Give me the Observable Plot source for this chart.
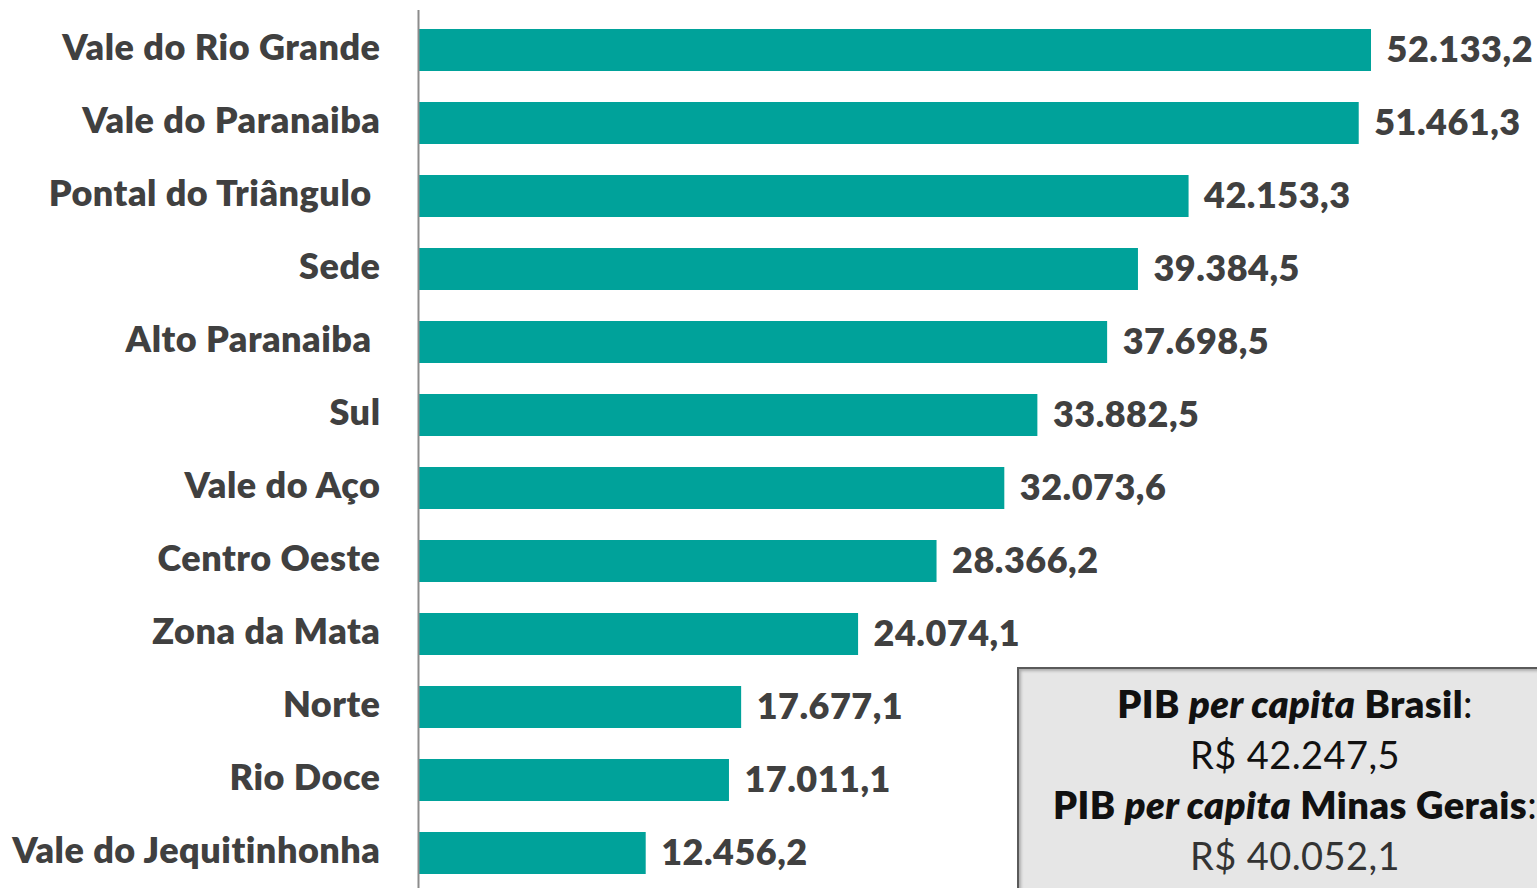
<!DOCTYPE html>
<html>
<head>
<meta charset="utf-8">
<script src="https://cdn.jsdelivr.net/npm/d3@7"></script>
<script src="https://cdn.jsdelivr.net/npm/@observablehq/plot@0.6"></script>
<style>
  html, body { margin: 0; padding: 0; background: #fff; }
  #wrap { position: relative; width: 1537px; height: 888px; overflow: hidden; }
  #chart svg text { letter-spacing: 0.5px; }
  #box {
    position: absolute; left: 1017px; top: 667px; width: 560px; height: 260px;
    background: #e6e6e6; border: 2px solid #5a5a5a; box-sizing: border-box;
    box-shadow: inset 2px 2px 3px rgba(0,0,0,0.25);
    font-family: Lato, "Open Sans", sans-serif; font-size: 38px; color: #111; letter-spacing: 0.4px;
  }
  #box .ln { position: absolute; left: 0; width: 552px; text-align: center; line-height: 1; white-space: nowrap; }
</style>
</head>
<body>
<div id="wrap">
  <div id="chart"></div>
  <div id="box"></div>
</div>
<script>
const regions = ["Vale do Rio Grande", "Vale do Paranaiba", "Pontal do Triângulo\u00A0", "Sede", "Alto Paranaiba\u00A0", "Sul", "Vale do Aço", "Centro Oeste", "Zona da Mata", "Norte", "Rio Doce", "Vale do Jequitinhonha"];
const values = [52133.2, 51461.3, 42153.3, 39384.5, 37698.5, 33882.5, 32073.6, 28366.2, 24074.1, 17677.1, 17011.1, 12456.2];
const valueLabels = ["52.133,2", "51.461,3", "42.153,3", "39.384,5", "37.698,5", "33.882,5", "32.073,6", "28.366,2", "24.074,1", "17.677,1", "17.011,1", "12.456,2"];
const boxLines = [
  ["PIB ", "per capita", " Brasil", ":"],
  ["R$ 42.247,5"],
  ["PIB ", "per capita", " Minas Gerais", ":"],
  ["R$ 40.052,1"]
];

const data = regions.map((r, i) => ({region: r, value: values[i], label: valueLabels[i]}));

const chart = Plot.plot({
  width: 1537,
  height: 888,
  marginLeft: 418,
  marginRight: 166,
  marginTop: 10,
  marginBottom: 0,
  style: {fontFamily: "Lato, 'Open Sans', sans-serif", background: "#fff"},
  x: {domain: [0, 52133.2], axis: null},
  y: {domain: regions, range: [11, 891.8], paddingInner: 0.42, paddingOuter: 0.21, label: null},
  marks: [
    Plot.barX(data, {x: "value", y: "region", fill: "#00a29a"}),
    Plot.ruleX([0], {stroke: "#8c8c8c", strokeWidth: 2}),
    Plot.axisY({tickSize: 0, tickPadding: 38, dy: -2, fontSize: 36, fontWeight: 800, fill: "#404040", label: null}),
    Plot.text(data, {x: "value", y: "region", text: "label", dx: 15, dy: 0, textAnchor: "start", fontSize: 36, fontWeight: 800, fill: "#404040"})
  ]
});
document.getElementById("chart").appendChild(chart);

const box = document.getElementById("box");
const tops = [15, 66, 116, 167];
boxLines.forEach((parts, i) => {
  const d = document.createElement("div");
  d.className = "ln";
  d.style.top = tops[i] + "px";
  if (parts.length === 1) {
    d.style.color = i === 1 ? "#111" : "#333";
    d.textContent = parts[0];
  } else {
    const b1 = document.createElement("span"); b1.style.fontWeight = 800; b1.textContent = parts[0];
    const it = document.createElement("span"); it.style.fontWeight = 800; it.style.fontStyle = "italic"; it.textContent = parts[1];
    const b2 = document.createElement("span"); b2.style.fontWeight = 800; b2.textContent = parts[2];
    const c = document.createElement("span"); c.textContent = parts[3];
    d.append(b1, it, b2, c);
  }
  box.appendChild(d);
});
</script>
</body>
</html>
